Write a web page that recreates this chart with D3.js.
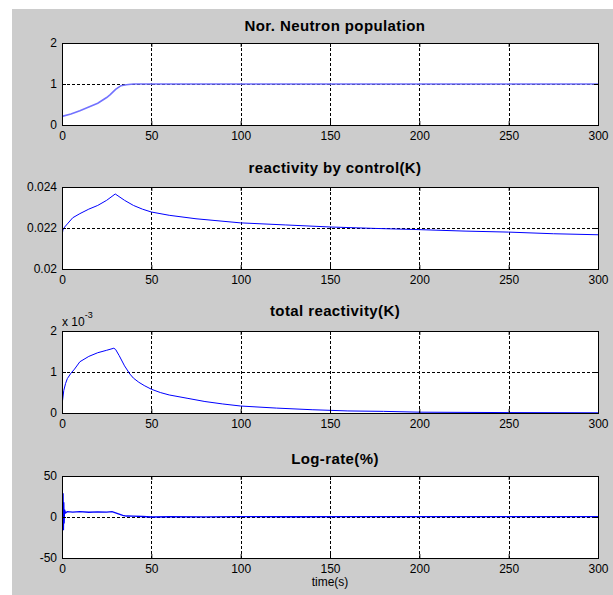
<!DOCTYPE html>
<html lang="en">
<head>
<meta charset="UTF-8">
<title>Reactor power control</title>
<style>
    body { margin: 0; background: #fff; }
    svg { display: block; font-family: "Liberation Sans", Arial, sans-serif; }
</style>
<script src="https://cdn.jsdelivr.net/npm/d3@7"></script>
</head>
<body>
<script>
// shared time axis
var xTicks = [0, 50, 100, 150, 200, 250, 300];

// Nor. Neutron population
var neutronT = [0, 5, 10, 15, 20, 25, 27, 30, 33, 36, 40, 60, 100, 150, 200, 250, 300];
var neutronV = [0.21, 0.27, 0.35, 0.44, 0.53, 0.67, 0.74, 0.87, 0.96, 0.98, 1.0, 1.0, 1.0, 1.0, 1.0, 1.0, 1.0];
var neutronTicks = [0, 1, 2];
var neutronLabels = ["0", "1", "2"];

// reactivity by control(K)
var controlT = [0, 0.5, 1.5, 3, 6, 10, 15, 20, 25, 29.8, 35, 40, 45, 50, 60, 75, 100, 125, 150, 175, 200, 225, 250, 275, 300];
var controlV = [0.02163, 0.0219, 0.02205, 0.0222, 0.0225, 0.0227, 0.02292, 0.0231, 0.02335, 0.02366, 0.02335, 0.0231, 0.02292,
                0.02278, 0.02262, 0.02245, 0.02225, 0.02215, 0.02205, 0.02198, 0.02192, 0.02185, 0.0218, 0.02172, 0.02167];
var controlTicks = [0.02, 0.022, 0.024];
var controlLabels = ["0.02", "0.022", "0.024"];

// total reactivity(K), in units of 1e-3
var totalT = [0, 0.3, 1, 2, 3, 5, 7, 10, 15, 20, 25, 29, 30, 32, 35, 38, 40, 43, 46, 50, 55, 60, 70, 80, 90, 100,
              120, 140, 160, 180, 200, 250, 300];
var totalV = [0, 0.3, 0.55, 0.72, 0.84, 0.97, 1.07, 1.25, 1.38, 1.47, 1.53, 1.58, 1.55, 1.4, 1.15, 0.95, 0.85, 0.75, 0.67,
              0.58, 0.5, 0.44, 0.36, 0.28, 0.22, 0.17, 0.12, 0.08, 0.05, 0.04, 0.02, 0.01, 0.005];
var totalTicks = [0, 1, 2];
var totalLabels = ["0", "1", "2"];

// Log-rate(%)
var logT = [0.4, 0.6, 0.8, 1.0, 1.2, 1.4, 2, 3, 6, 10, 15, 20, 25, 28, 30, 32, 34, 36, 40, 45, 50, 60, 80, 100, 130, 160, 200, 240, 270, 300];
var logV = [0, 29, -16, 18, -8, 9, 5, 6.5, 6, 6.5, 5.8, 6.2, 6, 6.5, 5, 3.5, 2, 1.2, 1, 0.6, 0, 0.3, 0.2, 0.4, 0.3, 0.4, 0.5, 0.4, 0.5, 0.4];
var logTicks = [-50, 0, 50];
var logLabels = ["-50", "0", "50"];

var panels = [
    {title: "Nor. Neutron population", t: neutronT, v: neutronV, ticks: neutronTicks, labels: neutronLabels,
     top: 43, titleY: 31, color: "#7272ff", width: 1.6},
    {title: "reactivity by control(K)", t: controlT, v: controlV, ticks: controlTicks, labels: controlLabels,
     top: 187, titleY: 173, color: "#0000ff", width: 1},
    {title: "total reactivity(K)", t: totalT, v: totalV, ticks: totalTicks, labels: totalLabels,
     top: 331, titleY: 316, color: "#0000ff", width: 1},
    {title: "Log-rate(%)", t: logT, v: logV, ticks: logTicks, labels: logLabels,
     top: 476, titleY: 464, color: "#0000ff", width: 1.3}
];

var W = 613, H = 595;
var left = 62, plotW = 536, plotH = 82;

var svg = d3.select("body").append("svg")
    .attr("width", W)
    .attr("height", H);

// figure background
svg.append("rect")
    .attr("x", 12).attr("y", 9)
    .attr("width", W - 12).attr("height", H - 9)
    .attr("fill", "#cccccc");

var x = d3.scaleLinear().domain([0, 300]).range([left, left + plotW]);

panels.forEach(function(p, i) {
    var y = d3.scaleLinear()
        .domain([p.ticks[0], p.ticks[p.ticks.length - 1]])
        .range([p.top + plotH, p.top]);

    var g = svg.append("g");

    g.append("rect")
        .attr("x", left).attr("y", p.top)
        .attr("width", plotW).attr("height", plotH)
        .attr("fill", "#fff");

    // dotted grid
    g.selectAll(".vg").data(xTicks.slice(1, -1)).enter().append("line")
        .attr("x1", d => Math.round(x(d)) + 0.5).attr("x2", d => Math.round(x(d)) + 0.5)
        .attr("y1", p.top).attr("y2", p.top + plotH)
        .attr("stroke", "#000").attr("stroke-dasharray", "3,2");
    g.selectAll(".hg").data(p.ticks.slice(1, -1)).enter().append("line")
        .attr("x1", left).attr("x2", left + plotW)
        .attr("y1", d => Math.round(y(d)) + 0.5).attr("y2", d => Math.round(y(d)) + 0.5)
        .attr("stroke", "#000").attr("stroke-dasharray", "3,2");

    // data line
    g.append("clipPath").attr("id", "clip" + i)
        .append("rect")
        .attr("x", left).attr("y", p.top)
        .attr("width", plotW).attr("height", plotH);

    var line = d3.line()
        .x((d, k) => x(p.t[k]))
        .y(d => y(d));

    g.append("path")
        .attr("d", line(p.v))
        .attr("clip-path", "url(#clip" + i + ")")
        .attr("fill", "none")
        .attr("stroke", p.color)
        .attr("stroke-width", p.width);

    // axes, ticks pointing inward
    g.append("g")
        .attr("transform", "translate(0," + (p.top + plotH) + ")")
        .call(d3.axisBottom(x).tickValues(xTicks).tickSize(-4).tickPadding(6));
    g.append("g")
        .attr("transform", "translate(" + left + ",0)")
        .call(d3.axisLeft(y).tickValues(p.ticks).tickFormat((d, k) => p.labels[k]).tickSize(-4).tickPadding(5));
    g.append("g")
        .attr("transform", "translate(0," + p.top + ")")
        .call(d3.axisTop(x).tickValues(xTicks).tickSize(-4).tickFormat(""));
    g.append("g")
        .attr("transform", "translate(" + (left + plotW) + ",0)")
        .call(d3.axisRight(y).tickValues(p.ticks).tickSize(-4).tickFormat(""));

    g.selectAll(".domain").remove();
    g.selectAll(".tick line").attr("stroke", "#000");
    g.selectAll(".tick text")
        .attr("font-size", 12)
        .attr("fill", "#000");
    g.selectAll("g").attr("font-family", null).attr("font-size", null);

    g.append("rect")
        .attr("x", left + 0.5).attr("y", p.top + 0.5)
        .attr("width", plotW).attr("height", plotH)
        .attr("fill", "none")
        .attr("stroke", "#000");

    g.append("text")
        .attr("x", left + plotW / 2 + 5)
        .attr("y", p.titleY)
        .attr("text-anchor", "middle")
        .attr("font-weight", "bold")
        .attr("font-size", 15)
        .attr("letter-spacing", 0.4)
        .text(p.title);
});

// multiplier for the total reactivity panel
var mult = svg.append("text")
    .attr("x", left)
    .attr("y", 326)
    .attr("font-size", 12);
mult.append("tspan").text("x 10");
mult.append("tspan").attr("dy", -8).attr("font-size", 9).text("-3");

svg.append("text")
    .attr("x", left + plotW / 2)
    .attr("y", 586)
    .attr("text-anchor", "middle")
    .attr("font-size", 12)
    .text("time(s)");
</script>
</body>
</html>
